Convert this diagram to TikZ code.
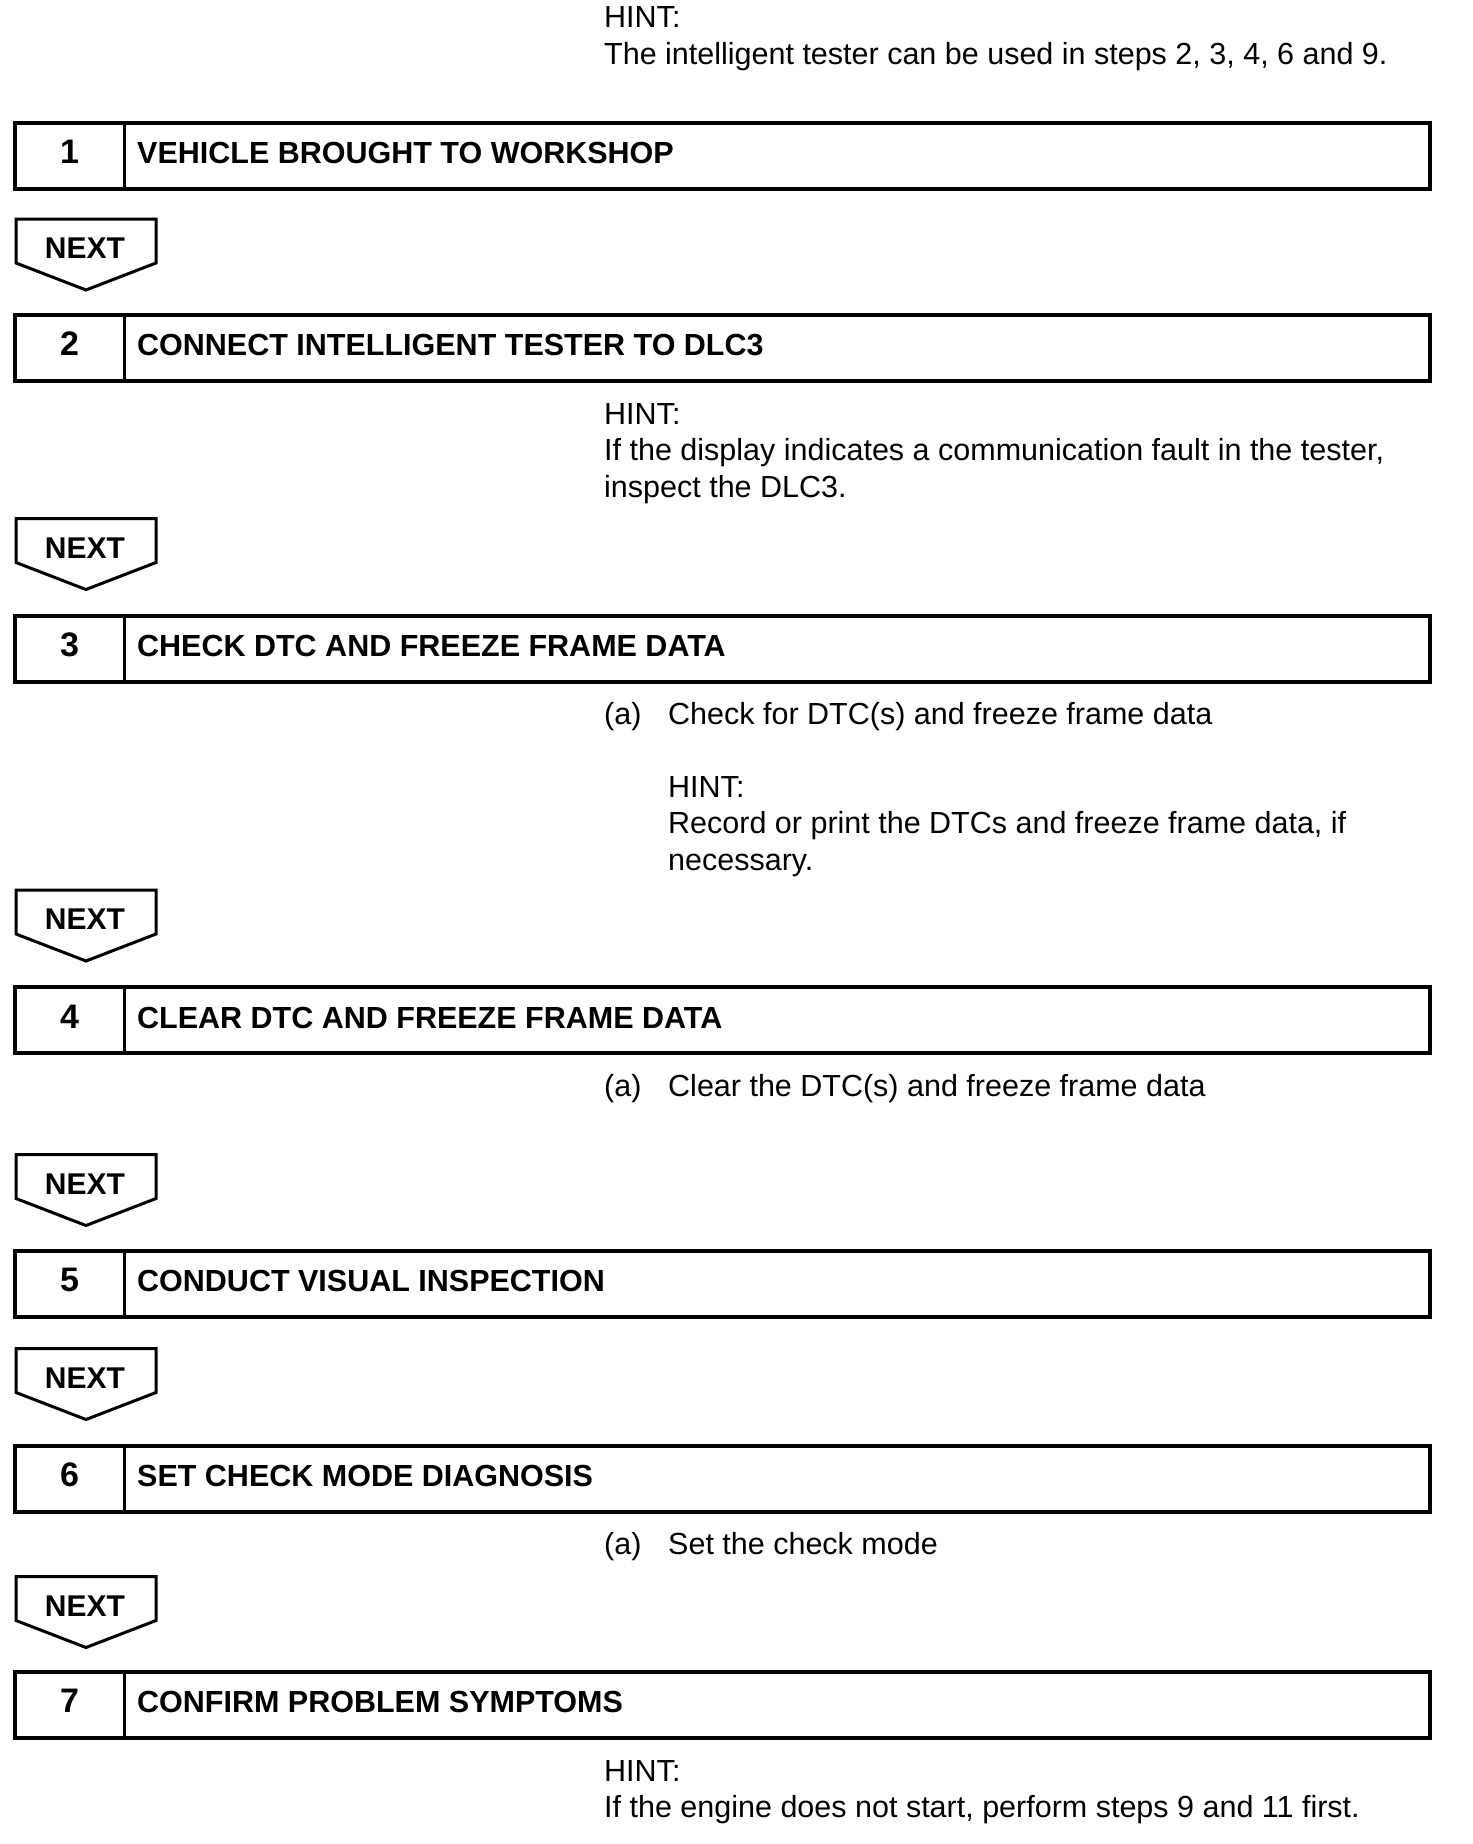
\documentclass[tikz,border=0pt]{standalone}
\usepackage{fontspec}
\setmainfont{Liberation Sans}
\usetikzlibrary{calc}

\begin{document}
\begin{tikzpicture}[x=1pt, y=-1pt,
  stepbox/.style={draw=black, line width=4pt, rectangle, minimum width=1415pt, minimum height=66pt, inner sep=0pt, outer sep=0pt, anchor=north west},
  stepdiv/.style={draw=black, line width=3pt},
  stepnum/.style={font=\fontsize{34}{36.5}\selectfont\bfseries, inner sep=0pt, anchor=base},
  steptitle/.style={font=\fontsize{30.5}{36.5}\selectfont\bfseries, inner sep=0pt, anchor=base west},
  nextarrow/.style={draw=black, line width=3pt, line join=miter},
  nextlabel/.style={font=\fontsize{30}{36.5}\selectfont\bfseries, inner sep=0pt, anchor=base},
  hinttext/.style={font=\fontsize{30.5}{36.5}\selectfont, inner sep=0pt, anchor=base west, align=left}]
\useasboundingbox (0,0) rectangle (1472,1844);
% (multi-line hint nodes sit on the baseline of their last line)

% General hint
\node[hinttext] (hint0) at (604,64.5) {HINT:\\The intelligent tester can be used in steps 2, 3, 4, 6 and 9.};

% Step 1
\node[stepbox] (box1) at (15,123) {};
\draw[stepdiv] ($(box1.north west)+(109,0)$) -- ($(box1.south west)+(109,0)$);
\node[stepnum] (num1) at (69.5,163) {1};
\node[steptitle] (title1) at (137,163) {VEHICLE BROUGHT TO WORKSHOP};

\draw[nextarrow] (16,219) -- (156,219) -- (156,263) -- (86,290) -- (16,263) -- cycle;
\node[nextlabel] (next1) at (85,258.5) {NEXT};

% Step 2
\node[stepbox] (box2) at (15,315) {};
\draw[stepdiv] ($(box2.north west)+(109,0)$) -- ($(box2.south west)+(109,0)$);
\node[stepnum] (num2) at (69.5,355) {2};
\node[steptitle] (title2) at (137,355) {CONNECT INTELLIGENT TESTER TO DLC3};
\node[hinttext] (hint2) at (604,497) {HINT:\\If the display indicates a communication fault in the tester,\\inspect the DLC3.};

\draw[nextarrow] (16,518.5) -- (156,518.5) -- (156,562.5) -- (86,589.5) -- (16,562.5) -- cycle;
\node[nextlabel] (next2) at (85,558) {NEXT};

% Step 3
\node[stepbox] (box3) at (15,616) {};
\draw[stepdiv] ($(box3.north west)+(109,0)$) -- ($(box3.south west)+(109,0)$);
\node[stepnum] (num3) at (69.5,656) {3};
\node[steptitle] (title3) at (137,656) {CHECK DTC AND FREEZE FRAME DATA};
\node[hinttext] (item3a) at (604,724) {(a)};
\node[hinttext] (text3a) at (668,724) {Check for DTC(s) and freeze frame data};
\node[hinttext] (hint3) at (668,870) {HINT:\\Record or print the DTCs and freeze frame data, if\\necessary.};

\draw[nextarrow] (16,890) -- (156,890) -- (156,934) -- (86,961) -- (16,934) -- cycle;
\node[nextlabel] (next3) at (85,929.5) {NEXT};

% Step 4
\node[stepbox] (box4) at (15,987) {};
\draw[stepdiv] ($(box4.north west)+(109,0)$) -- ($(box4.south west)+(109,0)$);
\node[stepnum] (num4) at (69.5,1028) {4};
\node[steptitle] (title4) at (137,1028) {CLEAR DTC AND FREEZE FRAME DATA};
\node[hinttext] (item4a) at (604,1096) {(a)};
\node[hinttext] (text4a) at (668,1096) {Clear the DTC(s) and freeze frame data};

\draw[nextarrow] (16,1154.5) -- (156,1154.5) -- (156,1198.5) -- (86,1225.5) -- (16,1198.5) -- cycle;
\node[nextlabel] (next4) at (85,1194) {NEXT};

% Step 5
\node[stepbox] (box5) at (15,1251) {};
\draw[stepdiv] ($(box5.north west)+(109,0)$) -- ($(box5.south west)+(109,0)$);
\node[stepnum] (num5) at (69.5,1291) {5};
\node[steptitle] (title5) at (137,1291) {CONDUCT VISUAL INSPECTION};

\draw[nextarrow] (16,1348.5) -- (156,1348.5) -- (156,1392.5) -- (86,1419.5) -- (16,1392.5) -- cycle;
\node[nextlabel] (next5) at (85,1388) {NEXT};

% Step 6
\node[stepbox] (box6) at (15,1446) {};
\draw[stepdiv] ($(box6.north west)+(109,0)$) -- ($(box6.south west)+(109,0)$);
\node[stepnum] (num6) at (69.5,1486) {6};
\node[steptitle] (title6) at (137,1486) {SET CHECK MODE DIAGNOSIS};
\node[hinttext] (item6a) at (604,1554) {(a)};
\node[hinttext] (text6a) at (668,1554) {Set the check mode};

\draw[nextarrow] (16,1576.5) -- (156,1576.5) -- (156,1620.5) -- (86,1647.5) -- (16,1620.5) -- cycle;
\node[nextlabel] (next6) at (85,1616) {NEXT};

% Step 7
\node[stepbox] (box7) at (15,1672) {};
\draw[stepdiv] ($(box7.north west)+(109,0)$) -- ($(box7.south west)+(109,0)$);
\node[stepnum] (num7) at (69.5,1712) {7};
\node[steptitle] (title7) at (137,1712) {CONFIRM PROBLEM SYMPTOMS};
\node[hinttext] (hint7) at (604,1817.5) {HINT:\\If the engine does not start, perform steps 9 and 11 first.};
\end{tikzpicture}
\end{document}
